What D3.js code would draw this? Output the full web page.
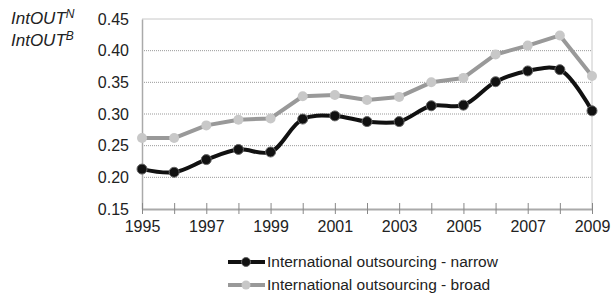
<!DOCTYPE html>
<html>
<head>
<meta charset="utf-8">
<script src="https://cdn.jsdelivr.net/npm/d3@7"></script>
<style>
  body { margin: 0; background: #fff; }
  text { font-family: "Liberation Sans", Arial, sans-serif; fill: #222; }
</style>
</head>
<body>
<div id="chart"></div>
<script>
const years = [1995, 1996, 1997, 1998, 1999, 2000, 2001, 2002, 2003, 2004, 2005, 2006, 2007, 2008, 2009];
const narrow = [0.213, 0.208, 0.228, 0.244, 0.240, 0.292, 0.297, 0.288, 0.288, 0.313, 0.314, 0.351, 0.368, 0.370, 0.305];
const broad = [0.262, 0.262, 0.282, 0.291, 0.293, 0.328, 0.330, 0.322, 0.327, 0.350, 0.357, 0.394, 0.408, 0.424, 0.360];
const yTicks = [0.15, 0.20, 0.25, 0.30, 0.35, 0.40, 0.45];
const xLabels = [1995, 1997, 1999, 2001, 2003, 2005, 2007, 2009];

const width = 614, height = 296;
const marginLeft = 142, marginRight = 22, marginTop = 19, marginBottom = 87;

const svg = d3.select("#chart").append("svg")
    .attr("width", width)
    .attr("height", height);

// scales
const x = d3.scaleLinear()
    .domain([1995, 2009])
    .range([marginLeft, width - marginRight]);

const y = d3.scaleLinear()
    .domain([0.15, 0.45])
    .range([height - marginBottom, marginTop]);

// dotted gridlines
svg.append("g")
    .selectAll("line")
    .data(yTicks.slice(1, -1))
    .join("line")
    .attr("x1", x(1995))
    .attr("x2", x(2009))
    .attr("y1", d => y(d))
    .attr("y2", d => y(d))
    .attr("stroke", "#999")
    .attr("stroke-width", 1)
    .attr("stroke-dasharray", "1,1");

// frame top and right
svg.append("path")
    .attr("d", `M${x(1995)},${y(0.45)}H${x(2009)}V${y(0.15)}`)
    .attr("fill", "none")
    .attr("stroke", "#c8c8c8")
    .attr("stroke-width", 1);

// y axis
svg.append("g")
    .attr("transform", `translate(${marginLeft},0)`)
    .call(d3.axisLeft(y).tickValues(yTicks).tickFormat(d3.format(".2f")).tickSize(0).tickPadding(13))
    .call(g => g.select(".domain").attr("stroke", "#aaa").attr("stroke-width", 1.5))
    .selectAll(".tick text")
    .style("font-size", "16px")
    .attr("fill", "#222");

// x axis
svg.append("g")
    .attr("transform", `translate(0,${y(0.15)})`)
    .call(d3.axisBottom(x).tickValues(years).tickSize(5).tickSizeOuter(0)
        .tickFormat(d => xLabels.includes(d) ? d : ""))
    .call(g => g.select(".domain").attr("stroke", "#aaa").attr("stroke-width", 2))
    .call(g => g.selectAll(".tick line").attr("stroke", "#888").attr("y1", -6))
    .selectAll(".tick text")
    .attr("dy", "0")
    .attr("y", 23)
    .style("font-size", "16px")
    .attr("fill", "#222");

// series
const series = [
    { name: "International outsourcing - broad", values: broad, line: "#999", fill: "#c8c8c8", stroke: "none",
      curve: d3.curveLinear },
    { name: "International outsourcing - narrow", values: narrow, line: "#111", fill: "#111", stroke: "#666",
      curve: d3.curveCatmullRom.alpha(0.5) }
];

series.forEach(s => {
    const line = d3.line()
        .x((d, i) => x(years[i]))
        .y(d => y(d))
        .curve(s.curve);

    svg.append("path")
        .datum(s.values)
        .attr("fill", "none")
        .attr("stroke", s.line)
        .attr("stroke-width", 4)
        .attr("stroke-linejoin", "round")
        .attr("d", line);

    svg.append("g")
        .selectAll("circle")
        .data(s.values)
        .join("circle")
        .attr("cx", (d, i) => x(years[i]))
        .attr("cy", d => y(d))
        .attr("r", 5)
        .attr("fill", s.fill)
        .attr("stroke", s.stroke)
        .attr("stroke-width", 1);
});

// y title
const title = svg.append("g").style("font-style", "italic");
[["IntOUT", "N", 24], ["IntOUT", "B", 46]].forEach(([base, sup, ty]) => {
    const t = title.append("text")
        .attr("x", 11)
        .attr("y", ty)
        .style("font-size", "17px");
    t.append("tspan").text(base);
    t.append("tspan").attr("dy", -6).style("font-size", "12px").text(sup);
});

// legend
const legend = svg.append("g");
const legendRows = [series[1], series[0]];
legendRows.forEach((s, i) => {
    const ly = 262 + i * 23;
    legend.append("line")
        .attr("x1", 228).attr("x2", 265)
        .attr("y1", ly).attr("y2", ly)
        .attr("stroke", s.line)
        .attr("stroke-width", 4);
    legend.append("circle")
        .attr("cx", 246).attr("cy", ly)
        .attr("r", 4.5)
        .attr("fill", s.fill)
        .attr("stroke", s.stroke);
    legend.append("text")
        .attr("x", 267)
        .attr("y", ly)
        .attr("dy", "0.35em")
        .style("font-size", "15.5px")
        .text(s.name);
});
</script>
</body>
</html>
